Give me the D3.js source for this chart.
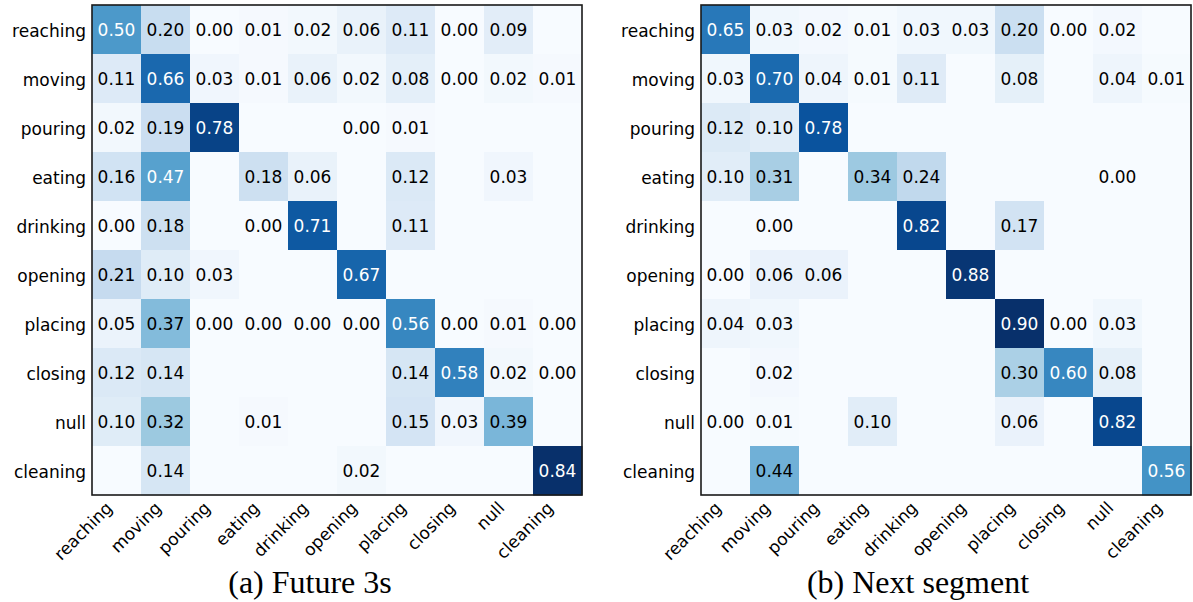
<!DOCTYPE html>
<html>
<head>
<meta charset="utf-8">
<script src="https://cdn.jsdelivr.net/npm/d3@7"></script>
<style>
  html, body { margin: 0; padding: 0; background: #fff; }
  svg { display: block; }
</style>
</head>
<body>
<svg id="chart" width="1193" height="602"></svg>
<script>
// ---- data ----
const categories = ["reaching","moving","pouring","eating","drinking","opening","placing","closing","null","cleaning"];
const captions = ["(a) Future 3s", "(b) Next segment"];
// null = empty cell (no label)
const future3s = [
  [0.50,0.20,0.00,0.01,0.02,0.06,0.11,0.00,0.09,null],
  [0.11,0.66,0.03,0.01,0.06,0.02,0.08,0.00,0.02,0.01],
  [0.02,0.19,0.78,null,null,0.00,0.01,null,null,null],
  [0.16,0.47,null,0.18,0.06,null,0.12,null,0.03,null],
  [0.00,0.18,null,0.00,0.71,null,0.11,null,null,null],
  [0.21,0.10,0.03,null,null,0.67,null,null,null,null],
  [0.05,0.37,0.00,0.00,0.00,0.00,0.56,0.00,0.01,0.00],
  [0.12,0.14,null,null,null,null,0.14,0.58,0.02,0.00],
  [0.10,0.32,null,0.01,null,null,0.15,0.03,0.39,null],
  [null,0.14,null,null,null,0.02,null,null,null,0.84]
];
const nextSegment = [
  [0.65,0.03,0.02,0.01,0.03,0.03,0.20,0.00,0.02,null],
  [0.03,0.70,0.04,0.01,0.11,null,0.08,null,0.04,0.01],
  [0.12,0.10,0.78,null,null,null,null,null,null,null],
  [0.10,0.31,null,0.34,0.24,null,null,null,0.00,null],
  [null,0.00,null,null,0.82,null,0.17,null,null,null],
  [0.00,0.06,0.06,null,null,0.88,null,null,null,null],
  [0.04,0.03,null,null,null,null,0.90,0.00,0.03,null],
  [null,0.02,null,null,null,null,0.30,0.60,0.08,null],
  [0.00,0.01,null,0.10,null,null,0.06,null,0.82,null],
  [null,0.44,null,null,null,null,null,null,null,0.56]
];
const blues = ["#f7fbff","#deebf7","#c6dbef","#9ecae1","#6baed6","#4292c6","#2171b5","#08519c","#08306b"];

// ---- layout ----
const svg = d3.select("#chart");
const size = 490, y0 = 5;
const panels = [
  {data: future3s, x0: 92, caption: captions[0], cx: 310},
  {data: nextSegment, x0: 701, caption: captions[1], cx: 918}
];

panels.forEach(p => {
  const g = svg.append("g");
  const x = d3.scaleBand().domain(categories).range([p.x0, p.x0 + size]);
  const y = d3.scaleBand().domain(categories).range([y0, y0 + size]);
  const vmax = d3.max(p.data.flat().filter(v => v != null));
  const color = d3.scaleLinear()
    .domain(blues.map((_, i) => i / (blues.length - 1) * vmax))
    .range(blues).clamp(true);

  const cells = [];
  p.data.forEach((row, i) => row.forEach((v, j) => cells.push({r: categories[i], c: categories[j], v})));

  g.selectAll("rect.cell").data(cells).join("rect")
    .attr("class", "cell")
    .attr("x", d => x(d.c)).attr("y", d => y(d.r))
    .attr("width", x.bandwidth() + 0.5).attr("height", y.bandwidth() + 0.5)
    .attr("fill", d => color(d.v == null ? 0 : d.v));

  g.selectAll("text.val").data(cells.filter(d => d.v != null)).join("text")
    .attr("class", "val")
    .attr("x", d => x(d.c) + x.bandwidth() / 2)
    .attr("y", d => y(d.r) + y.bandwidth() / 2)
    .attr("text-anchor", "middle").attr("dominant-baseline", "central")
    .attr("font-family", "DejaVu Sans").attr("font-size", 17)
    .attr("fill", d => d.v > vmax / 2 ? "#ffffff" : "#000000")
    .text(d => d.v.toFixed(2));

  g.append("rect")
    .attr("x", p.x0).attr("y", y0).attr("width", size).attr("height", size)
    .attr("fill", "none").attr("stroke", "#1a1a1a").attr("stroke-width", 1.6);

  // y labels
  g.selectAll("text.ylab").data(categories).join("text")
    .attr("class", "ylab")
    .attr("x", p.x0 - 6).attr("y", d => y(d) + y.bandwidth() / 2 + 1)
    .attr("text-anchor", "end").attr("dominant-baseline", "central")
    .attr("font-family", "DejaVu Sans").attr("font-size", 17).attr("fill", "#000")
    .text(d => d);

  // x labels
  g.selectAll("text.xlab").data(categories).join("text")
    .attr("class", "xlab")
    .attr("transform", d => `translate(${x(d) + x.bandwidth() / 2 - 3},${y0 + size + 14}) rotate(-45)`)
    .attr("text-anchor", "end")
    .attr("font-family", "DejaVu Sans").attr("font-size", 17).attr("fill", "#000")
    .text(d => d);

  g.append("text")
    .attr("x", p.cx).attr("y", 593)
    .attr("text-anchor", "middle")
    .attr("font-family", "Liberation Serif").attr("font-size", 32).attr("fill", "#000")
    .text(p.caption);
});
</script>
</body>
</html>
